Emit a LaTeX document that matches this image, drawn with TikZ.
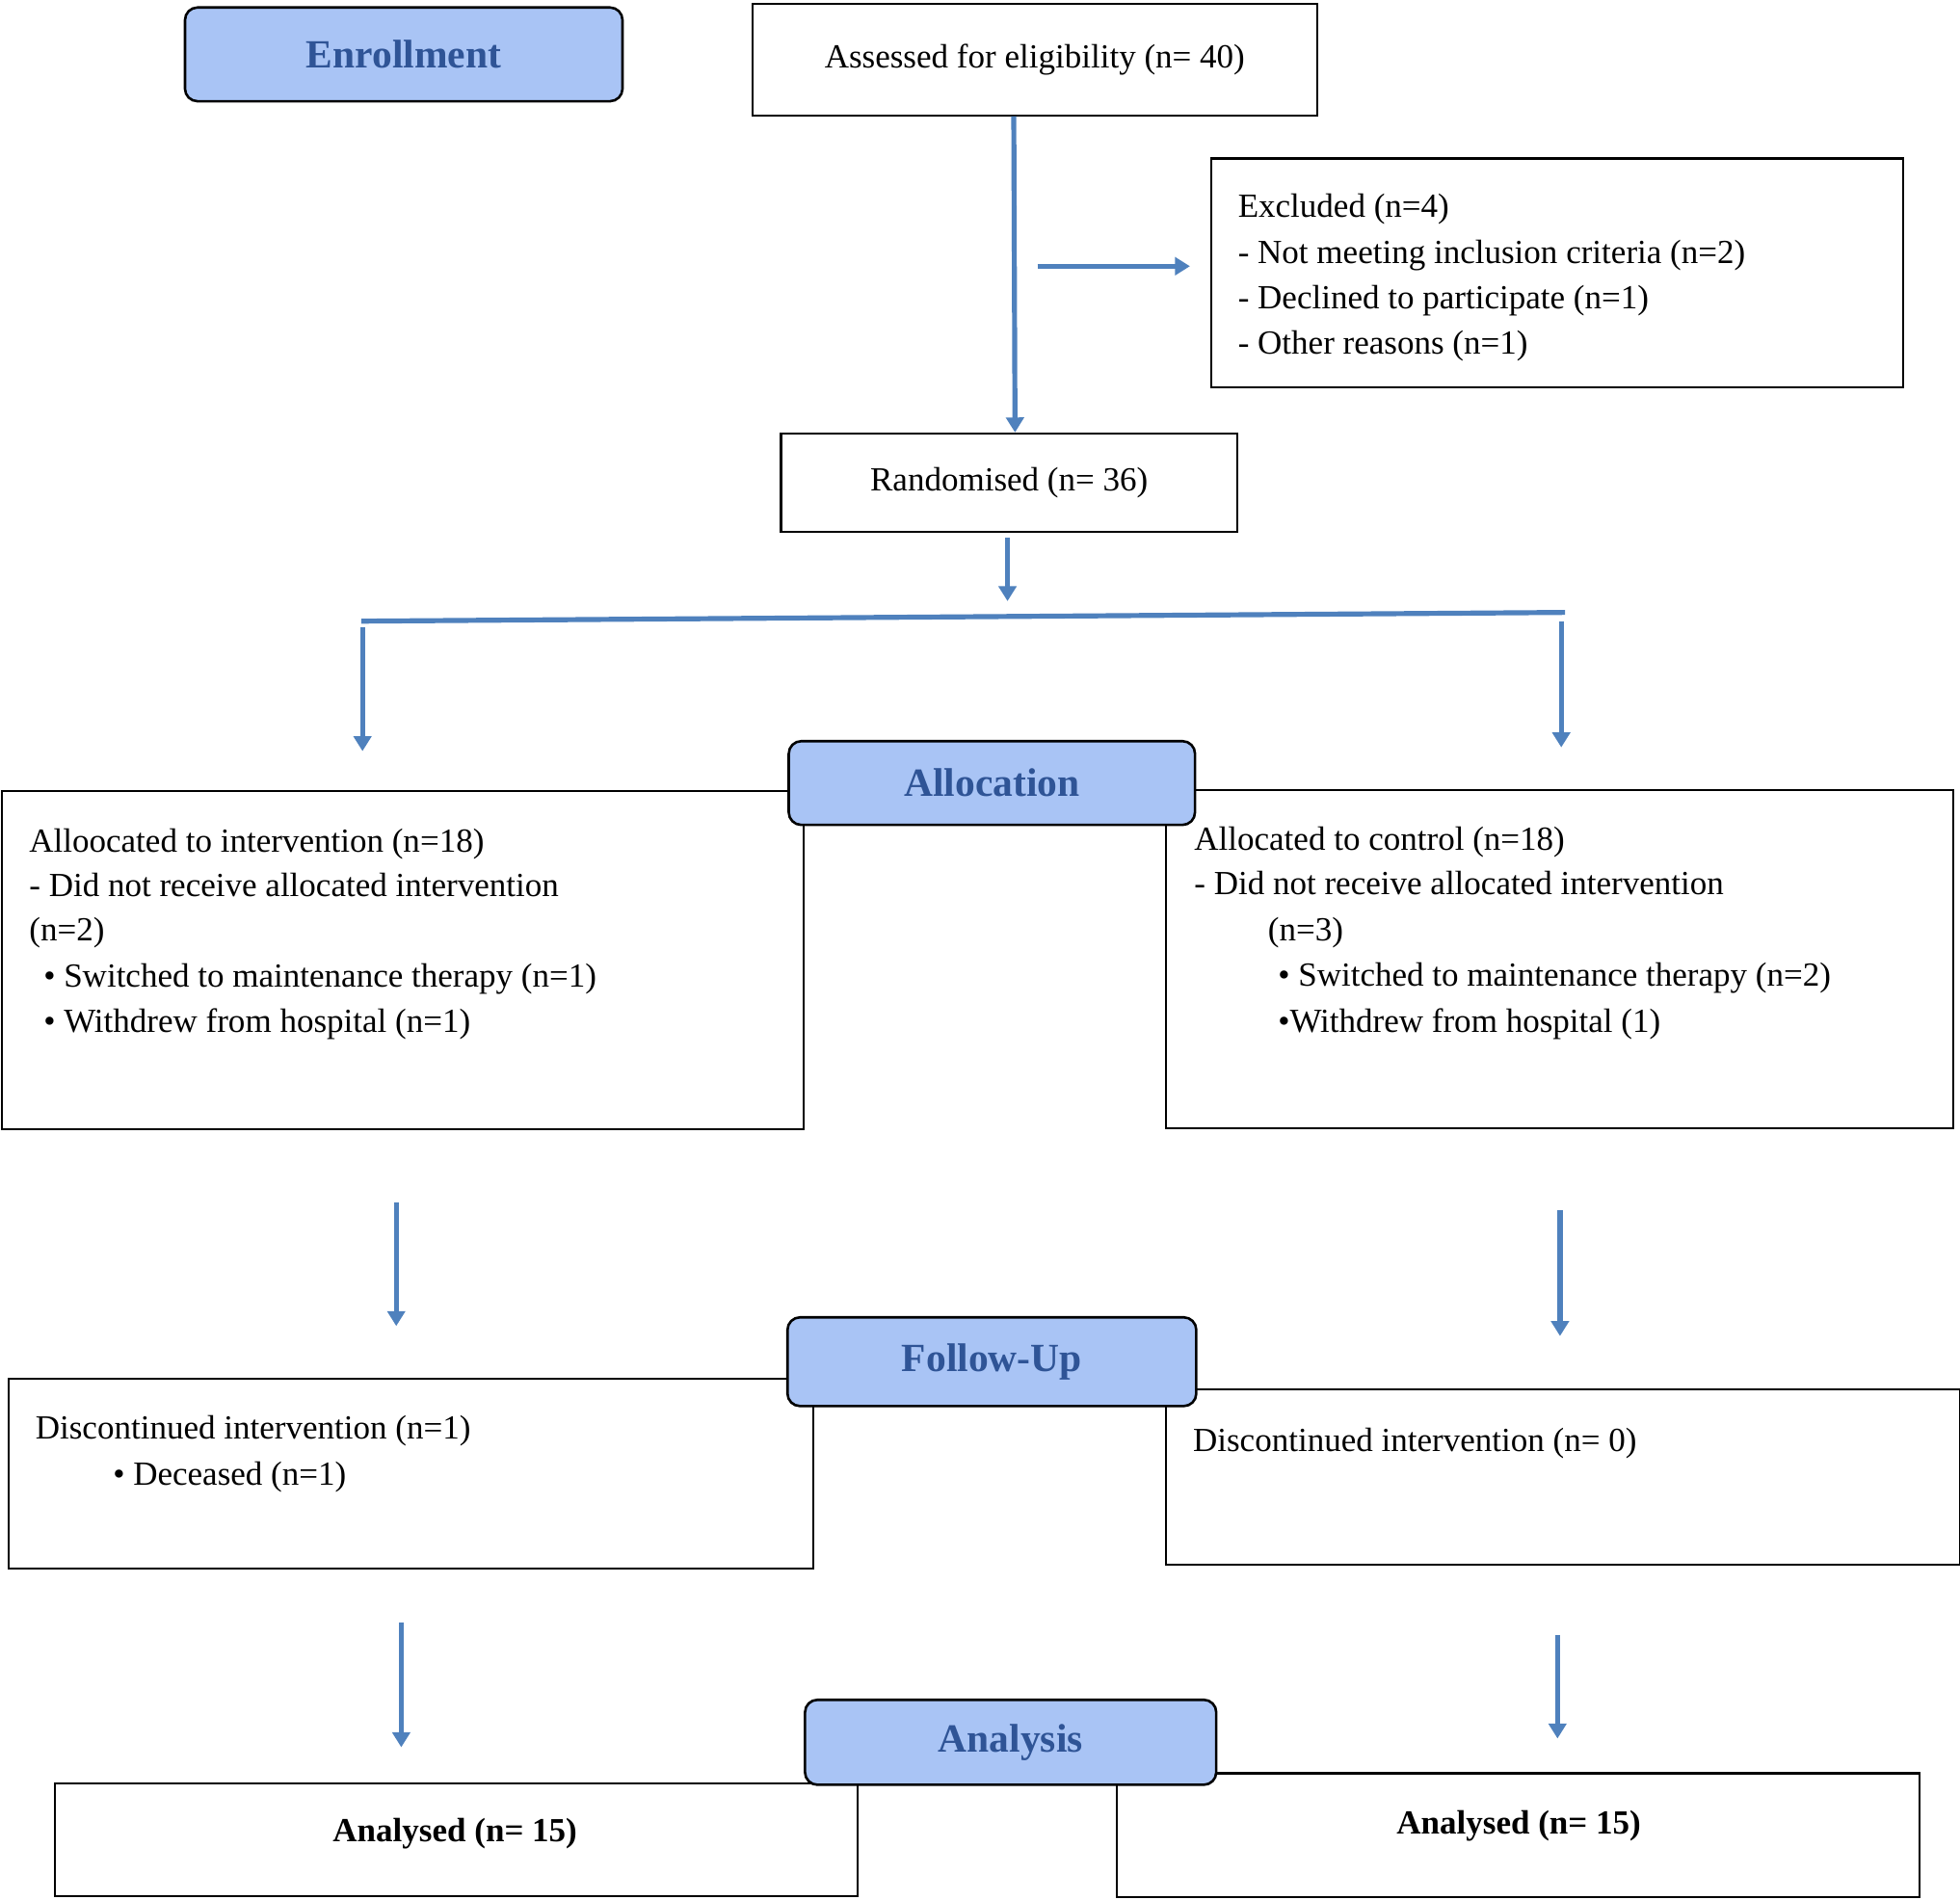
\documentclass[tikz,border=0pt]{standalone}
\usepackage{fontspec}
\setmainfont{Liberation Serif}
\usetikzlibrary{arrows.meta}
\definecolor{arr}{HTML}{4F81BD}
\definecolor{lab}{HTML}{A9C4F5}
\definecolor{labtxt}{HTML}{2F5496}
\begin{document}
\begin{tikzpicture}[x=0.5pt,y=-0.5pt,
  box/.style={draw,line width=0.8pt,anchor=north west,inner sep=0},
  stage/.style={draw,line width=1pt,fill=lab,rounded corners=5pt,anchor=north west,inner sep=0},
  stagetxt/.style={font=\fontsize{16}{18}\selectfont\bfseries,text=labtxt},
  txt/.style={anchor=base west,inner sep=0,font=\fontsize{13.5}{18}\selectfont},
  ctxt/.style={inner sep=0,font=\fontsize{13.5}{18}\selectfont},
  flow/.style={draw=arr,line width=2pt,-{Triangle[length=6pt,width=7pt]}},
  flowline/.style={draw=arr,line width=2pt}]
\useasboundingbox (0,0) rectangle (1568,1520);
% boxes
\node[box,minimum width=452*0.5pt,minimum height=90*0.5pt] (assess) at (601,2) {};
\node[box,minimum width=554*0.5pt,minimum height=183*0.5pt] (excl) at (968,126) {};
\node[box,minimum width=365*0.5pt,minimum height=79*0.5pt] (rand) at (624,346) {};
\node[box,minimum width=641*0.5pt,minimum height=271*0.5pt] (allocL) at (1,632) {};
\node[box,minimum width=630*0.5pt,minimum height=271*0.5pt] (allocR) at (932,631) {};
\node[box,minimum width=644*0.5pt,minimum height=152*0.5pt] (follL) at (6,1102) {};
\node[box,minimum width=635*0.5pt,minimum height=140*0.5pt] (follR) at (932,1111) {};
\node[box,minimum width=642*0.5pt,minimum height=90*0.5pt] (anaL) at (43,1426) {};
\node[box,minimum width=642*0.5pt,minimum height=99*0.5pt] (anaR) at (893,1418) {};
% stage labels
\node[stage,minimum width=350*0.5pt,minimum height=75*0.5pt] (enr) at (147,5) {};
\node[stagetxt] at (enr.center) {Enrollment};
\node[stage,minimum width=325*0.5pt,minimum height=67*0.5pt] (all) at (630,592) {};
\node[stagetxt] at (all.center) {Allocation};
\node[stage,minimum width=327*0.5pt,minimum height=71*0.5pt] (fol) at (629,1053) {};
\node[stagetxt] at (fol.center) {Follow-Up};
\node[stage,minimum width=329*0.5pt,minimum height=68*0.5pt] (ana) at (643,1359) {};
\node[stagetxt] at (ana.center) {Analysis};
% texts
\node[ctxt] at (assess.center) {Assessed for eligibility (n= 40)};
\node[txt] at (990,174) {Excluded (n=4)};
\node[txt] at (990,211) {- Not meeting inclusion criteria (n=2)};
\node[txt] at (990,247) {- Declined to participate (n=1)};
\node[txt] at (990,283) {- Other reasons (n=1)};
\node[ctxt] at (rand.center) {Randomised (n= 36)};
\node[txt] at (23,682) {Alloocated to intervention (n=18)};
\node[txt] at (23,717) {- Did not receive allocated intervention};
\node[txt] at (23,753) {(n=2)};
\node[txt] at (30,790) {\,• Switched to maintenance therapy (n=1)};
\node[txt] at (30,826) {\,• Withdrew from hospital (n=1)};
\node[txt] at (955,680) {Allocated to control (n=18)};
\node[txt] at (955,716) {- Did not receive allocated intervention};
\node[txt] at (1014,753) {(n=3)};
\node[txt] at (1022,789) {• Switched to maintenance therapy (n=2)};
\node[txt] at (1022,826) {•Withdrew from hospital (1)};
\node[txt] at (28,1151) {Discontinued intervention (n=1)};
\node[txt] at (90,1188) {• Deceased (n=1)};
\node[txt] at (954,1161) {Discontinued intervention (n= 0)};
\node[ctxt,font=\fontsize{13.5}{18}\selectfont\bfseries] at (364,1467) {Analysed (n= 15)};
\node[ctxt,font=\fontsize{13.5}{18}\selectfont\bfseries] at (1215,1461) {Analysed (n= 15)};
% connectors
\coordinate (a1) at (811,93);
\coordinate (a2) at (812,346);
\draw[flow] (a1) -- (a2);
\coordinate (e1) at (830,213);
\coordinate (e2) at (952,213);
\draw[flow] (e1) -- (e2);
\coordinate (r1) at (806,430);
\coordinate (r2) at (806,481);
\draw[flow] (r1) -- (r2);
\coordinate (hL) at (289,497);
\coordinate (hR) at (1252,490);
\draw[flowline] (hL) -- (hR);
\coordinate (dL1) at (290,502);
\coordinate (dL2) at (290,601);
\draw[flow] (dL1) -- (dL2);
\coordinate (dR1) at (1249,497);
\coordinate (dR2) at (1249,598);
\draw[flow] (dR1) -- (dR2);
\coordinate (fL1) at (317,962);
\coordinate (fL2) at (317,1061);
\draw[flow] (fL1) -- (fL2);
\coordinate (fR1) at (1248,968);
\coordinate (fR2) at (1248,1069);
\draw[flow] (fR1) -- (fR2);
\coordinate (gL1) at (321,1298);
\coordinate (gL2) at (321,1398);
\draw[flow] (gL1) -- (gL2);
\coordinate (gR1) at (1246,1308);
\coordinate (gR2) at (1246,1391);
\draw[flow] (gR1) -- (gR2);
\end{tikzpicture}
\end{document}
